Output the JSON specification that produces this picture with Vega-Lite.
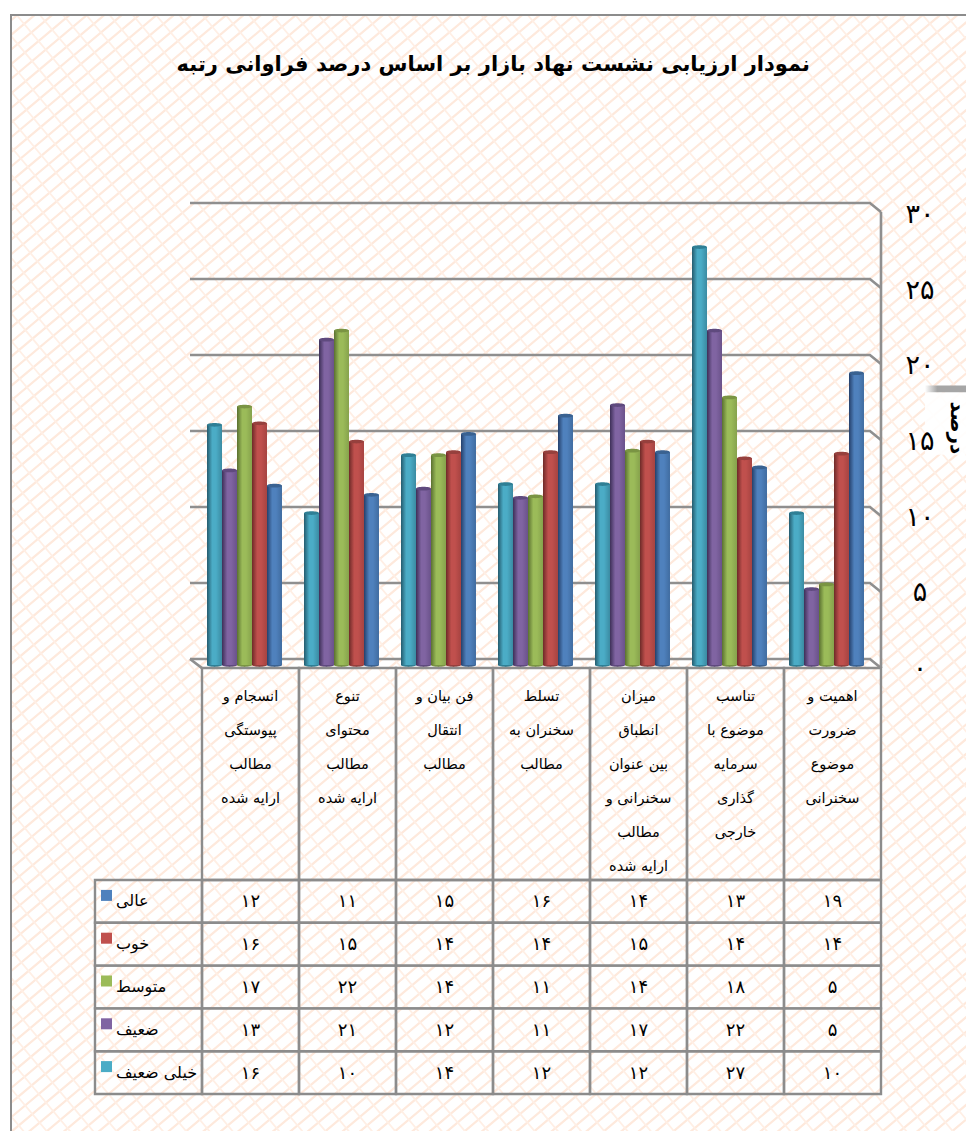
{
"$schema":"https://vega.github.io/schema/vega-lite/v6.json",
"width":966,"height":1131,
"autosize":{"type":"fit","contains":"padding"},
"padding":{"left":7,"top":11,"right":0,"bottom":0},
"background":"#ffffff",
"view":{"stroke":null,"fill":"#ffffff"},
"config":{"text":{"font":"DejaVu Sans","color":"#000000"}},
"datasets":{
"bars":[
{"c":"انسجام","s":"خیلی ضعیف","v":15.8,"t":"۱۶"},{"c":"انسجام","s":"ضعیف","v":12.8,"t":"۱۳"},{"c":"انسجام","s":"متوسط","v":17,"t":"۱۷"},{"c":"انسجام","s":"خوب","v":15.9,"t":"۱۶"},{"c":"انسجام","s":"عالی","v":11.8,"t":"۱۲"},
{"c":"تنوع","s":"خیلی ضعیف","v":10,"t":"۱۰"},{"c":"تنوع","s":"ضعیف","v":21.4,"t":"۲۱"},{"c":"تنوع","s":"متوسط","v":22,"t":"۲۲"},{"c":"تنوع","s":"خوب","v":14.7,"t":"۱۵"},{"c":"تنوع","s":"عالی","v":11.2,"t":"۱۱"},
{"c":"فن بیان","s":"خیلی ضعیف","v":13.8,"t":"۱۴"},{"c":"فن بیان","s":"ضعیف","v":11.6,"t":"۱۲"},{"c":"فن بیان","s":"متوسط","v":13.8,"t":"۱۴"},{"c":"فن بیان","s":"خوب","v":14,"t":"۱۴"},{"c":"فن بیان","s":"عالی","v":15.2,"t":"۱۵"},
{"c":"تسلط","s":"خیلی ضعیف","v":11.9,"t":"۱۲"},{"c":"تسلط","s":"ضعیف","v":11,"t":"۱۱"},{"c":"تسلط","s":"متوسط","v":11.1,"t":"۱۱"},{"c":"تسلط","s":"خوب","v":14,"t":"۱۴"},{"c":"تسلط","s":"عالی","v":16.4,"t":"۱۶"},
{"c":"میزان","s":"خیلی ضعیف","v":11.9,"t":"۱۲"},{"c":"میزان","s":"ضعیف","v":17.1,"t":"۱۷"},{"c":"میزان","s":"متوسط","v":14.1,"t":"۱۴"},{"c":"میزان","s":"خوب","v":14.7,"t":"۱۵"},{"c":"میزان","s":"عالی","v":14,"t":"۱۴"},
{"c":"تناسب","s":"خیلی ضعیف","v":27.5,"t":"۲۷"},{"c":"تناسب","s":"ضعیف","v":22,"t":"۲۲"},{"c":"تناسب","s":"متوسط","v":17.6,"t":"۱۸"},{"c":"تناسب","s":"خوب","v":13.6,"t":"۱۴"},{"c":"تناسب","s":"عالی","v":13,"t":"۱۳"},
{"c":"اهمیت","s":"خیلی ضعیف","v":10,"t":"۱۰"},{"c":"اهمیت","s":"ضعیف","v":5,"t":"۵"},{"c":"اهمیت","s":"متوسط","v":5.3,"t":"۵"},{"c":"اهمیت","s":"خوب","v":13.9,"t":"۱۴"},{"c":"اهمیت","s":"عالی","v":19.2,"t":"۱۹"}
],
"heads":[
{"c":"انسجام","n":1,"w":"انسجام و"},{"c":"انسجام","n":2,"w":"پیوستگی"},{"c":"انسجام","n":3,"w":"مطالب"},{"c":"انسجام","n":4,"w":"ارایه شده"},
{"c":"تنوع","n":1,"w":"تنوع"},{"c":"تنوع","n":2,"w":"محتوای"},{"c":"تنوع","n":3,"w":"مطالب"},{"c":"تنوع","n":4,"w":"ارایه شده"},
{"c":"فن بیان","n":1,"w":"فن بیان و"},{"c":"فن بیان","n":2,"w":"انتقال"},{"c":"فن بیان","n":3,"w":"مطالب"},
{"c":"تسلط","n":1,"w":"تسلط"},{"c":"تسلط","n":2,"w":"سخنران به"},{"c":"تسلط","n":3,"w":"مطالب"},
{"c":"میزان","n":1,"w":"میزان"},{"c":"میزان","n":2,"w":"انطباق"},{"c":"میزان","n":3,"w":"بین عنوان"},{"c":"میزان","n":4,"w":"سخنرانی و"},{"c":"میزان","n":5,"w":"مطالب"},{"c":"میزان","n":6,"w":"ارایه شده"},
{"c":"تناسب","n":1,"w":"تناسب"},{"c":"تناسب","n":2,"w":"موضوع با"},{"c":"تناسب","n":3,"w":"سرمایه"},{"c":"تناسب","n":4,"w":"گذاری"},{"c":"تناسب","n":5,"w":"خارجی"},
{"c":"اهمیت","n":1,"w":"اهمیت  و"},{"c":"اهمیت","n":2,"w":"ضرورت"},{"c":"اهمیت","n":3,"w":"موضوع"},{"c":"اهمیت","n":4,"w":"سخنرانی"}
],
"cats":[{"c":"انسجام"},{"c":"تنوع"},{"c":"فن بیان"},{"c":"تسلط"},{"c":"میزان"},{"c":"تناسب"},{"c":"اهمیت"}],
"series":[{"s":"عالی"},{"s":"خوب"},{"s":"متوسط"},{"s":"ضعیف"},{"s":"خیلی ضعیف"}],
"walls":[
{"l":"g30","i":1,"wx":0,"wy":30},{"l":"g30","i":2,"wx":0.984,"wy":30},{"l":"g30","i":3,"wx":1,"wy":29.4},
{"l":"g25","i":1,"wx":0,"wy":25},{"l":"g25","i":2,"wx":0.984,"wy":25},{"l":"g25","i":3,"wx":1,"wy":24.4},
{"l":"g20","i":1,"wx":0,"wy":20},{"l":"g20","i":2,"wx":0.984,"wy":20},{"l":"g20","i":3,"wx":1,"wy":19.4},
{"l":"g15","i":1,"wx":0,"wy":15},{"l":"g15","i":2,"wx":0.984,"wy":15},{"l":"g15","i":3,"wx":1,"wy":14.4},
{"l":"g10","i":1,"wx":0,"wy":10},{"l":"g10","i":2,"wx":0.984,"wy":10},{"l":"g10","i":3,"wx":1,"wy":9.4},
{"l":"g5","i":1,"wx":0,"wy":5},{"l":"g5","i":2,"wx":0.984,"wy":5},{"l":"g5","i":3,"wx":1,"wy":4.4},
{"l":"g0","i":1,"wx":0,"wy":0},{"l":"g0","i":2,"wx":0.984,"wy":0},{"l":"g0","i":3,"wx":1,"wy":-0.6},
{"l":"edge","i":1,"wx":1,"wy":29.4},{"l":"edge","i":2,"wx":1,"wy":-0.6},
{"l":"floor","i":1,"wx":0,"wy":0},{"l":"floor","i":2,"wx":0.0174,"wy":-0.6}
],
"ticks":[{"k":30,"t":"۳۰"},{"k":25,"t":"۲۵"},{"k":20,"t":"۲۰"},{"k":15,"t":"۱۵"},{"k":10,"t":"۱۰"},{"k":5,"t":"۵"},{"k":0,"t":"۰"}]
},
"resolve":{"scale":{"x":"independent","y":"independent","fill":"independent"}},
"layer":[
{"data":{"values":[{"u":-0.174,"v":-0.186},{"u":1.173,"v":1.186}]},
 "mark":{"type":"line","clip":true,"stroke":"#fee9dc","strokeWidth":3000,"strokeDash":[2.2,9]},
 "encoding":{"x":{"field":"u","type":"quantitative","axis":null,"scale":{"domain":[0,1],"range":[0,955],"nice":false,"zero":false}},"y":{"field":"v","type":"quantitative","axis":null,"scale":{"domain":[0,1],"range":[0,1116],"nice":false,"zero":false}}}},
{"data":{"values":[{"u":-0.303,"v":1.076},{"u":1.302,"v":-0.076}]},
 "mark":{"type":"line","clip":true,"stroke":"#ffefe5","strokeWidth":3000,"strokeDash":[1.8,16]},
 "encoding":{"x":{"field":"u","type":"quantitative","axis":null,"scale":{"domain":[0,1],"range":[0,955],"nice":false,"zero":false}},"y":{"field":"v","type":"quantitative","axis":null,"scale":{"domain":[0,1],"range":[0,1116],"nice":false,"zero":false}}}},
{"data":{"values":[{"i":1,"u":0,"v":1},{"i":2,"u":0,"v":0},{"i":3,"u":1,"v":0}]},
 "mark":{"type":"line","stroke":"#8c8c8c","strokeWidth":2},
 "encoding":{"x":{"field":"u","type":"quantitative","axis":null,"scale":{"domain":[0,1],"range":[0,955],"nice":false,"zero":false}},"y":{"field":"v","type":"quantitative","axis":null,"scale":{"domain":[0,1],"range":[0,1116],"nice":false,"zero":false}},"order":{"field":"i"}}},
{"data":{"name":"walls"},
 "mark":{"type":"line","stroke":"#8f8f8f","strokeWidth":2.6},
 "encoding":{"x":{"field":"wx","type":"quantitative","axis":null,"scale":{"domain":[0,1],"range":[179,870],"nice":false,"zero":false}},"y":{"field":"wy","type":"quantitative","axis":null,"scale":{"domain":[0,30],"range":[644,188],"nice":false,"zero":false}},"detail":{"field":"l"},"order":{"field":"i"}}},
{"data":{"name":"bars"},
 "encoding":{
  "x":{"field":"c","type":"nominal","axis":null,"scale":{"type":"band","domain":["انسجام","تنوع","فن بیان","تسلط","میزان","تناسب","اهمیت"],"range":[185,864],"paddingInner":0.227,"paddingOuter":0.1135}},
  "xOffset":{"field":"s","type":"nominal","scale":{"domain":["خیلی ضعیف","ضعیف","متوسط","خوب","عالی"],"paddingInner":0,"paddingOuter":0}},
  "y":{"field":"v","type":"quantitative","axis":null,"scale":{"domain":[0,30],"range":[650,194],"nice":false}}},
 "layer":[
 {"mark":{"type":"point","filled":true,"opacity":1,"size":225,"shape":"M-1,0A1,0.25 0 1 1 1,0A1,0.25 0 1 1 -1,0Z"},
  "encoding":{"y":{"datum":0,"type":"quantitative"},"fill":{"field":"s","type":"nominal","legend":null,"scale":{"domain":["خیلی ضعیف","ضعیف","متوسط","خوب","عالی"],"range":["#2f7f95","#5f4a7e","#7a9443","#96403d","#3a6291"]}}}},
 {"transform":[{"filter":"datum.s==='خیلی ضعیف'"}],"mark":{"type":"bar","color":{"gradient":"linear","x1":0,"y1":0,"x2":1,"y2":0,"stops":[{"offset":0,"color":"#235a6d"},{"offset":0.35,"color":"#4bacc6"},{"offset":0.6,"color":"#4bacc6"},{"offset":1,"color":"#3b8ba2"}]}}},
 {"transform":[{"filter":"datum.s==='ضعیف'"}],"mark":{"type":"bar","color":{"gradient":"linear","x1":0,"y1":0,"x2":1,"y2":0,"stops":[{"offset":0,"color":"#3d2f57"},{"offset":0.35,"color":"#8064a2"},{"offset":0.6,"color":"#8064a2"},{"offset":1,"color":"#6a528a"}]}}},
 {"transform":[{"filter":"datum.s==='متوسط'"}],"mark":{"type":"bar","color":{"gradient":"linear","x1":0,"y1":0,"x2":1,"y2":0,"stops":[{"offset":0,"color":"#5a7030"},{"offset":0.35,"color":"#9bbb59"},{"offset":0.6,"color":"#9bbb59"},{"offset":1,"color":"#86a24c"}]}}},
 {"transform":[{"filter":"datum.s==='خوب'"}],"mark":{"type":"bar","color":{"gradient":"linear","x1":0,"y1":0,"x2":1,"y2":0,"stops":[{"offset":0,"color":"#6e2a28"},{"offset":0.35,"color":"#c0504d"},{"offset":0.6,"color":"#c0504d"},{"offset":1,"color":"#a64341"}]}}},
 {"transform":[{"filter":"datum.s==='عالی'"}],"mark":{"type":"bar","color":{"gradient":"linear","x1":0,"y1":0,"x2":1,"y2":0,"stops":[{"offset":0,"color":"#25406b"},{"offset":0.35,"color":"#4f81bd"},{"offset":0.6,"color":"#4f81bd"},{"offset":1,"color":"#406ca0"}]}}},
 {"mark":{"type":"point","filled":true,"opacity":1,"size":225,"shape":"M-1,0A1,0.25 0 1 1 1,0A1,0.25 0 1 1 -1,0Z"},
  "encoding":{"fill":{"field":"s","type":"nominal","legend":null,"scale":{"domain":["خیلی ضعیف","ضعیف","متوسط","خوب","عالی"],"range":["#2f7f95","#5f4a7e","#7a9443","#96403d","#3a6291"]}}}}
 ]},
{"data":{"name":"cats"},
 "mark":{"type":"rect","fillOpacity":0,"stroke":"#8c8c8c","strokeWidth":2.4},
 "encoding":{"x":{"field":"c","type":"nominal","axis":null,"scale":{"type":"band","domain":["انسجام","تنوع","فن بیان","تسلط","میزان","تناسب","اهمیت"],"range":[191,870],"paddingInner":0,"paddingOuter":0}},
  "y":{"datum":"header","type":"nominal","axis":null,"scale":{"type":"band","domain":["header"],"range":[653,865],"paddingInner":0,"paddingOuter":0}}}},
{"data":{"name":"heads"},
 "mark":{"type":"text","fontSize":14.5,"align":"center","baseline":"middle"},
 "encoding":{"x":{"field":"c","type":"nominal","axis":null,"scale":{"type":"band","domain":["انسجام","تنوع","فن بیان","تسلط","میزان","تناسب","اهمیت"],"range":[191,870],"paddingInner":0,"paddingOuter":0}},
  "y":{"field":"n","type":"ordinal","axis":null,"scale":{"type":"point","domain":[1,2,3,4,5,6],"range":[682,852],"padding":0}},
  "text":{"field":"w"}}},
{"data":{"name":"bars"},
 "mark":{"type":"rect","fillOpacity":0,"stroke":"#8c8c8c","strokeWidth":2.4},
 "encoding":{"x":{"field":"c","type":"nominal","axis":null,"scale":{"type":"band","domain":["انسجام","تنوع","فن بیان","تسلط","میزان","تناسب","اهمیت"],"range":[191,870],"paddingInner":0,"paddingOuter":0}},
  "y":{"field":"s","type":"nominal","axis":null,"scale":{"type":"band","domain":["عالی","خوب","متوسط","ضعیف","خیلی ضعیف"],"range":[865,1079],"paddingInner":0,"paddingOuter":0}}}},
{"data":{"name":"bars"},
 "mark":{"type":"text","fontSize":18,"align":"center","baseline":"middle","dy":1},
 "encoding":{"x":{"field":"c","type":"nominal","axis":null,"scale":{"type":"band","domain":["انسجام","تنوع","فن بیان","تسلط","میزان","تناسب","اهمیت"],"range":[191,870],"paddingInner":0,"paddingOuter":0}},
  "y":{"field":"s","type":"nominal","axis":null,"scale":{"type":"band","domain":["عالی","خوب","متوسط","ضعیف","خیلی ضعیف"],"range":[865,1079],"paddingInner":0,"paddingOuter":0}},
  "text":{"field":"t"}}},
{"data":{"name":"series"},
 "mark":{"type":"rect","fillOpacity":0,"stroke":"#8c8c8c","strokeWidth":2.4},
 "encoding":{"x":{"datum":"head","type":"nominal","axis":null,"scale":{"type":"band","domain":["head"],"range":[84,191],"paddingInner":0,"paddingOuter":0}},
  "y":{"field":"s","type":"nominal","axis":null,"scale":{"type":"band","domain":["عالی","خوب","متوسط","ضعیف","خیلی ضعیف"],"range":[865,1079],"paddingInner":0,"paddingOuter":0}}}},
{"data":{"name":"series"},
 "mark":{"type":"point","shape":"square","filled":true,"opacity":1,"size":121,"yOffset":-6},
 "encoding":{"x":{"datum":"swatch","type":"nominal","axis":null,"scale":{"type":"point","domain":["swatch","name"],"range":[95.5,105],"padding":0}},
  "y":{"field":"s","type":"nominal","axis":null,"scale":{"type":"band","domain":["عالی","خوب","متوسط","ضعیف","خیلی ضعیف"],"range":[865,1079],"paddingInner":0,"paddingOuter":0}},
  "fill":{"field":"s","type":"nominal","legend":null,"scale":{"domain":["عالی","خوب","متوسط","ضعیف","خیلی ضعیف"],"range":["#4f81bd","#c0504d","#9bbb59","#8064a2","#4bacc6"]}}}},
{"data":{"name":"series"},
 "mark":{"type":"text","fontSize":16,"align":"left","baseline":"middle"},
 "encoding":{"x":{"datum":"name","type":"nominal","axis":null,"scale":{"type":"point","domain":["swatch","name"],"range":[95.5,105],"padding":0}},
  "y":{"field":"s","type":"nominal","axis":null,"scale":{"type":"band","domain":["عالی","خوب","متوسط","ضعیف","خیلی ضعیف"],"range":[865,1079],"paddingInner":0,"paddingOuter":0}},
  "text":{"field":"s"}}},
{"data":{"values":[{"u":0.957,"u2":1.0,"v":0.338,"v2":0.394}]},
 "mark":{"type":"rect","fill":"#ffffff","opacity":0.9},
 "encoding":{"x":{"field":"u","type":"quantitative","axis":null,"scale":{"domain":[0,1],"range":[0,955],"nice":false,"zero":false}},"x2":{"field":"u2"},"y":{"field":"v","type":"quantitative","axis":null,"scale":{"domain":[0,1],"range":[0,1116],"nice":false,"zero":false}},"y2":{"field":"v2"}}},
{"data":{"values":[{"u":0.957,"u2":1.0,"v":0.332,"v2":0.338}]},
 "mark":{"type":"rect","color":{"gradient":"linear","x1":0,"y1":0,"x2":0.3,"y2":0,"stops":[{"offset":0,"color":"#ffffff"},{"offset":1,"color":"#a6a6a6"}]}},
 "encoding":{"x":{"field":"u","type":"quantitative","axis":null,"scale":{"domain":[0,1],"range":[0,955],"nice":false,"zero":false}},"x2":{"field":"u2"},"y":{"field":"v","type":"quantitative","axis":null,"scale":{"domain":[0,1],"range":[0,1116],"nice":false,"zero":false}},"y2":{"field":"v2"}}},
{"data":{"name":"ticks"},
 "mark":{"type":"text","fontSize":27,"align":"center","baseline":"middle"},
 "encoding":{"x":{"datum":"tick","type":"nominal","axis":null,"scale":{"type":"point","domain":["tick"],"range":[909,909],"padding":0}},
  "y":{"field":"k","type":"quantitative","axis":null,"scale":{"domain":[0,30],"range":[654,200],"nice":false}},
  "text":{"field":"t"}}},
{"data":{"values":[{"u":0.991,"v":0.37,"t":"درصد"}]},
 "mark":{"type":"text","fontSize":20,"fontWeight":"bold","angle":90,"align":"center","baseline":"middle"},
 "encoding":{"x":{"field":"u","type":"quantitative","axis":null,"scale":{"domain":[0,1],"range":[0,955],"nice":false,"zero":false}},"y":{"field":"v","type":"quantitative","axis":null,"scale":{"domain":[0,1],"range":[0,1116],"nice":false,"zero":false}},"text":{"field":"t"}}},
{"data":{"values":[{"u":0.505,"v":0.045,"t":"نمودار ارزیابی نشست نهاد بازار بر اساس درصد فراوانی رتبه"}]},
 "mark":{"type":"text","fontSize":21,"fontWeight":"bold","align":"center","baseline":"middle"},
 "encoding":{"x":{"field":"u","type":"quantitative","axis":null,"scale":{"domain":[0,1],"range":[0,955],"nice":false,"zero":false}},"y":{"field":"v","type":"quantitative","axis":null,"scale":{"domain":[0,1],"range":[0,1116],"nice":false,"zero":false}},"text":{"field":"t"}}}
]
}
